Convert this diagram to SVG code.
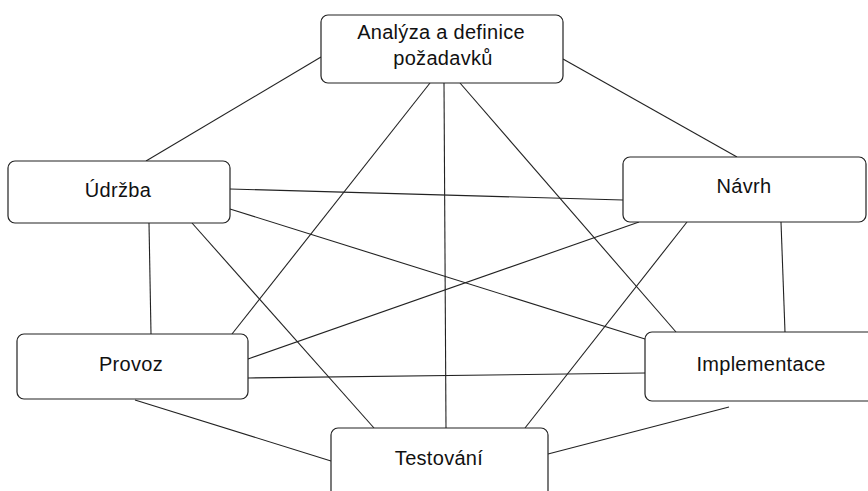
<svg xmlns="http://www.w3.org/2000/svg" width="868" height="491" viewBox="0 0 868 491">
<style>
.box{fill:#fff;stroke:#222;stroke-width:1.2}
.lbl{font-family:"Liberation Sans",Arial,sans-serif;font-size:20px;fill:#111;text-anchor:middle;letter-spacing:0.3px}
.edge{stroke:#222;stroke-width:1.1;fill:none}
</style>
<rect width="868" height="491" fill="#fff"/>
<g id="connectors">
<line class="edge" x1="321" y1="57" x2="146" y2="161"/>
<line class="edge" x1="563" y1="59" x2="737" y2="157"/>
<line class="edge" x1="430" y1="83" x2="232" y2="334"/>
<line class="edge" x1="444" y1="83" x2="446" y2="428"/>
<line class="edge" x1="460" y1="83" x2="676" y2="332"/>
<line class="edge" x1="230" y1="189" x2="623" y2="200"/>
<line class="edge" x1="230" y1="209" x2="645" y2="339"/>
<line class="edge" x1="149" y1="223" x2="151" y2="334"/>
<line class="edge" x1="192" y1="223" x2="374" y2="428"/>
<line class="edge" x1="639" y1="222" x2="248" y2="359"/>
<line class="edge" x1="687" y1="222" x2="525" y2="428"/>
<line class="edge" x1="781" y1="222" x2="785" y2="332"/>
<line class="edge" x1="248" y1="378" x2="645" y2="373"/>
<line class="edge" x1="135" y1="400" x2="331" y2="461"/>
<line class="edge" x1="729" y1="407" x2="548" y2="454"/>
</g>
<g id="analyza">
<rect class="box" x="321" y="15" width="242" height="68" rx="7"/>
<text class="lbl" x="441" y="39">Analýza a definice</text>
<text class="lbl" x="443" y="65">požadavků</text>
</g>
<g id="udrzba">
<rect class="box" x="8" y="161" width="222" height="62" rx="7"/>
<text class="lbl" x="118" y="197">Údržba</text>
</g>
<g id="navrh">
<rect class="box" x="623" y="157" width="243" height="65" rx="7"/>
<text class="lbl" x="744" y="193">Návrh</text>
</g>
<g id="provoz">
<rect class="box" x="17" y="334" width="231" height="65" rx="7"/>
<text class="lbl" x="131" y="371">Provoz</text>
</g>
<g id="implementace">
<rect class="box" x="645" y="332" width="232" height="69" rx="7"/>
<text class="lbl" x="761" y="371">Implementace</text>
</g>
<g id="testovani">
<rect class="box" x="331" y="428" width="217" height="70" rx="7"/>
<text class="lbl" x="439" y="465">Testování</text>
</g>
</svg>
